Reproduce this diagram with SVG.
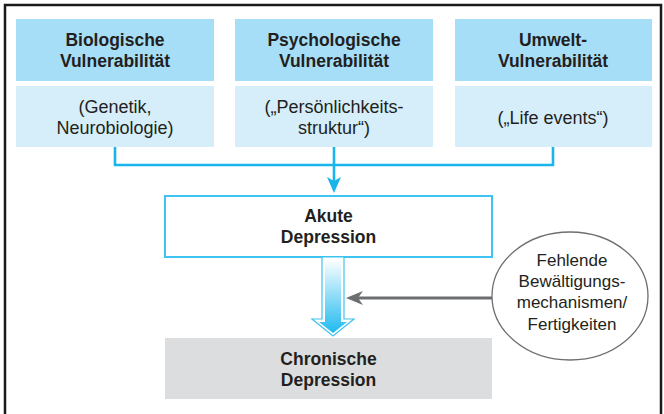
<svg xmlns="http://www.w3.org/2000/svg" width="664" height="414" viewBox="0 0 664 414">
<defs>
<style>
.t{font-family:"Liberation Sans",Arial,sans-serif;font-size:17px;fill:#231f20;text-anchor:middle}
.b{font-weight:bold;font-size:17.5px}
.s{font-size:18px}
.hd{fill:#a7def7}
.lo{fill:#d5eefa}
.con{fill:none;stroke:#19b5ea;stroke-width:2.6}
</style>
<linearGradient id="g" x1="0" y1="0" x2="0" y2="1">
<stop offset="0" stop-color="#ffffff"/>
<stop offset="1" stop-color="#1fbaf0"/>
</linearGradient>
</defs>
<rect x="0" y="0" width="664" height="414" fill="#ffffff"/>
<rect x="5" y="5" width="656" height="420" fill="none" stroke="#1a1a1a" stroke-width="2.5"/>

<g id="bio">
<rect class="hd" x="16" y="19" width="198" height="62"/>
<rect class="lo" x="16" y="86" width="198" height="61"/>
<text class="t b" x="115" y="46">Biologische</text>
<text class="t b" x="115" y="67">Vulnerabilität</text>
<text class="t s" x="115" y="113">(Genetik,</text>
<text class="t s" x="115" y="134">Neurobiologie)</text>
</g>

<g id="psy">
<rect class="hd" x="235" y="19" width="198" height="62"/>
<rect class="lo" x="235" y="86" width="198" height="61"/>
<text class="t b" x="334" y="46">Psychologische</text>
<text class="t b" x="334" y="67">Vulnerabilität</text>
<text class="t s" x="334" y="113">(„Persönlichkeits-</text>
<text class="t s" x="334" y="134">struktur“)</text>
</g>

<g id="umw">
<rect class="hd" x="455" y="19" width="197" height="62"/>
<rect class="lo" x="455" y="86" width="197" height="61"/>
<text class="t b" x="553" y="46">Umwelt-</text>
<text class="t b" x="553" y="67">Vulnerabilität</text>
<text class="t s" x="553" y="124">(„Life events“)</text>
</g>

<g id="akut">
<rect x="165" y="196" width="327" height="61" fill="#ffffff" stroke="#3fc3f0" stroke-width="2"/>
<text class="t b" x="328.5" y="222">Akute</text>
<text class="t b" x="328.5" y="243">Depression</text>
</g>

<g id="chron">
<rect x="165" y="338" width="327" height="61" fill="#dcddde"/>
<text class="t b" x="328.5" y="365">Chronische</text>
<text class="t b" x="328.5" y="386">Depression</text>
</g>

<g id="fehl">
<ellipse cx="570" cy="296" rx="78" ry="64" fill="#ffffff" stroke="#6d6e70" stroke-width="1.3"/>
<text class="t" x="572" y="266">Fehlende</text>
<text class="t" x="572" y="287">Bewältigungs-</text>
<text class="t" x="572" y="308">mechanismen/</text>
<text class="t" x="572" y="330">Fertigkeiten</text>
</g>

<g id="connectors">
<path class="con" d="M115,147 V165 H553 V147"/>
<path class="con" d="M334,147 V182"/>
<path d="M334,193 L327,177 L334,181 L341,177 Z" fill="#19b5ea"/>
<polygon points="322,257 344,257 344,319 354,319 333,336 312,319 322,319" fill="#ffffff" stroke="#3fc3f0" stroke-width="1.2"/>
<polygon points="325,259 341,259 341,322 347,322 333,333 319,322 325,322" fill="url(#g)"/>
<path d="M492,298 H356" fill="none" stroke="#6d6e70" stroke-width="3"/>
<path d="M346,298 L363,291 L358,298 L363,305 Z" fill="#6d6e70"/>
</g>
</svg>
